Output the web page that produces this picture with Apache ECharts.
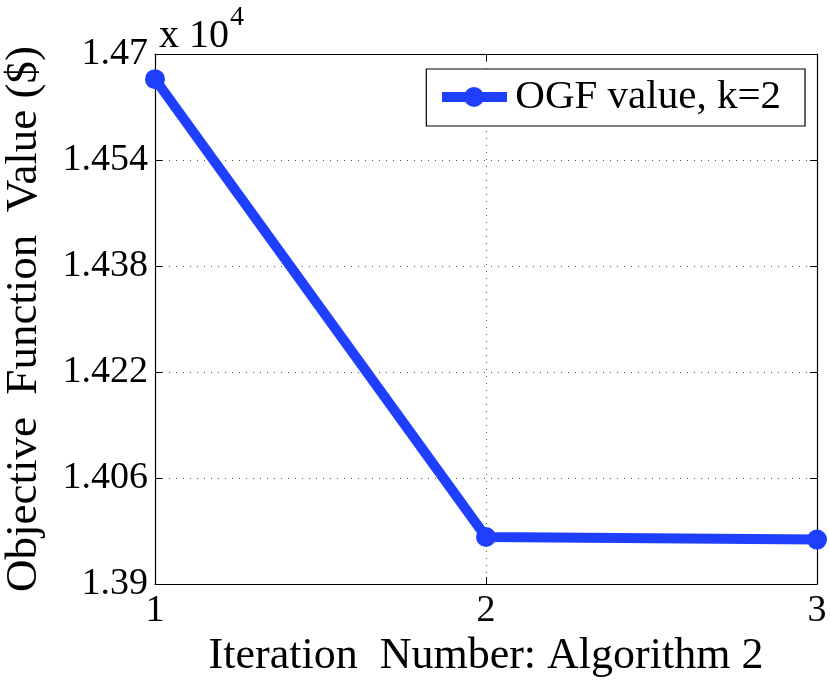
<!DOCTYPE html>
<html><head><meta charset="utf-8">
<script src="https://cdn.jsdelivr.net/npm/echarts@6/dist/echarts.min.js"></script>
<style>html,body{margin:0;padding:0;background:#fff}#c{width:830px;height:687px}</style>
</head><body><div id="c"></div>
<script>
const iterations = [1, 2, 3];
const ogfValues = [1.4662, 1.3971, 1.3967]; // x 10^4
const yTicks = [1.39, 1.406, 1.422, 1.438, 1.454, 1.47];
const seriesName = 'OGF value, k=2';
const FONT = 'Liberation Serif';
const BLUE = '#1f3fff';
const chart = echarts.init(document.getElementById('c'));
const tickStyle = {show: true, inside: true, length: 7, lineStyle: {color: '#000', width: 1}};
chart.setOption({
  animation: false,
  grid: {left: 155, right: 13, top: 54, bottom: 103, containLabel: false, outerBoundsMode: 'none'},
  legend: {
    data: [{name: seriesName, icon: 'circle'}], right: 25, top: 69, orient: 'horizontal',
    itemWidth: 0, itemHeight: 0, itemGap: 0, padding: [8, 24, 8, 84],
    borderColor: '#000', borderWidth: 1.2, backgroundColor: '#fff',
    textStyle: {fontFamily: FONT, fontSize: 41, color: '#000'}
  },
  graphic: [
    {type: 'line', shape: {x1: 442, y1: 97, x2: 507, y2: 97}, style: {stroke: BLUE, lineWidth: 10}, z: 100},
    {type: 'circle', shape: {cx: 474, cy: 97, r: 10}, style: {fill: BLUE}, z: 101},
    {type: 'text', left: 159, top: 4, z: 10, style: {
      text: '{a|x 10}{b|4}', rich: {
        a: {fontFamily: FONT, fontSize: 40, fill: '#000', verticalAlign: 'bottom'},
        b: {fontFamily: FONT, fontSize: 28, fill: '#000', verticalAlign: 'top', padding: [0,0,24,1]}
      }}}
  ],
  xAxis: [{
    type: 'value', min: 1, max: 3, interval: 1,
    name: 'Iteration  Number: Algorithm 2', nameLocation: 'middle', nameGap: 48,
    nameTextStyle: {fontFamily: FONT, fontSize: 44, color: '#000'},
    axisLine: {show: true, lineStyle: {color: '#000', width: 1.2}},
    axisTick: tickStyle,
    axisLabel: {fontFamily: FONT, fontSize: 38, color: '#000', margin: 8},
    splitLine: {show: true, lineStyle: {color: '#555', type: [1, 6], width: 1}}
  }, {
    type: 'value', min: 1, max: 3, interval: 1, position: 'top',
    axisLine: {show: true, lineStyle: {color: '#000', width: 1.2}},
    axisTick: tickStyle, axisLabel: {show: false}, splitLine: {show: false}
  }],
  yAxis: [{
    type: 'value', min: 1.39, max: 1.47, interval: 0.016,
    name: 'Objective  Function  Value ($)', nameLocation: 'middle', nameGap: 108,
    nameTextStyle: {fontFamily: FONT, fontSize: 45, color: '#000'},
    axisLine: {show: true, lineStyle: {color: '#000', width: 1.2}},
    axisTick: tickStyle,
    axisLabel: {fontFamily: FONT, fontSize: 38, color: '#000', margin: 7,
      formatter: v => String(+v.toFixed(3))},
    splitLine: {show: true, lineStyle: {color: '#555', type: [1, 6], width: 1}}
  }, {
    type: 'value', min: 1.39, max: 1.47, interval: 0.016, position: 'right',
    axisLine: {show: true, lineStyle: {color: '#000', width: 1.2}},
    axisTick: tickStyle, axisLabel: {show: false}, splitLine: {show: false}
  }],
  series: [{
    name: seriesName, type: 'line',
    data: iterations.map((x, i) => [x, ogfValues[i]]),
    symbol: 'circle', symbolSize: 20, clip: false,
    lineStyle: {color: BLUE, width: 10}, itemStyle: {color: BLUE}
  }]
});
</script></body></html>
